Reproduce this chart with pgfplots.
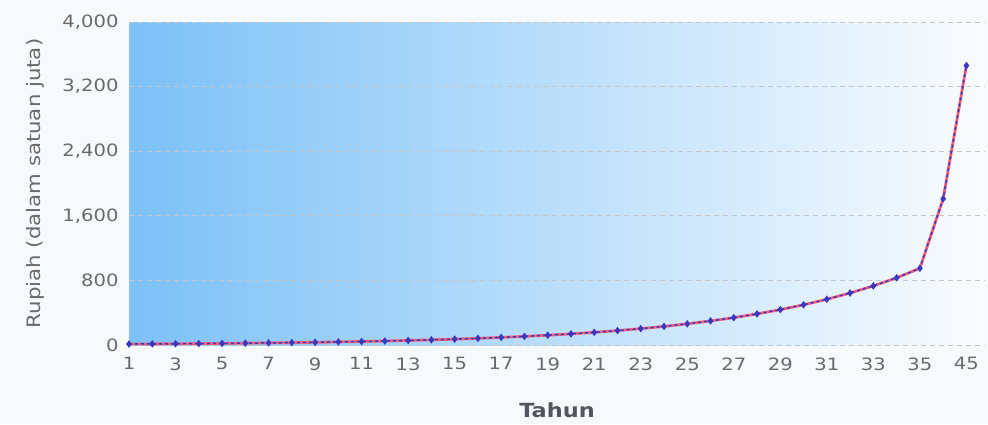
\documentclass[border=0pt]{standalone}
\usepackage{pgfplots}
\pgfplotsset{compat=1.18}
\usepackage{fontspec}
\setmainfont{DejaVu Sans}[FakeStretch=1.15]
\definecolor{bgL}{HTML}{7CC1F7}
\definecolor{bgR}{HTML}{FAFCFE}
\definecolor{outbg}{HTML}{F7FAFC}
\definecolor{tickc}{HTML}{6A6A6A}
\definecolor{titc}{HTML}{55555F}
\definecolor{redl}{HTML}{F0607A}
\definecolor{bluel}{HTML}{3838C0}
\pgfplotstableread{
x y
0 12
1 13.6
2 15.5
3 17.6
4 20.1
5 22.8
6 26.0
7 29.5
8 33.6
9 38.2
10 43.4
11 49.4
12 56.1
13 63.8
14 72.6
15 82.5
16 93.8
17 106.7
18 121.3
19 137.9
20 156.8
21 178.3
22 202.7
23 230.5
24 262.1
25 298.0
26 338.8
27 385.2
28 438.0
29 498.0
30 566.2
31 643.8
32 732.0
33 832.3
34 950
35 1810
36 3460
}\datatab
\begin{document}
\begin{tikzpicture}
\fill[outbg] (0pt,0pt) rectangle (988pt,424pt);
\begin{axis}[
  at={(129pt,79pt)}, anchor=south west,
  scale only axis, width=856pt, height=323pt,
  xmin=0, xmax=36.8, ymin=0, ymax=4000,
  axis background/.style={left color=bgL, right color=bgR, shading angle=90},
  axis line style={draw=none},
  major tick length=0pt,
  xtick={0,2,...,36},
  xticklabels={1,3,5,7,9,11,13,15,17,19,21,23,25,27,29,31,33,35,45},
  ytick={0,800,1600,2400,3200,4000},
  ymajorgrids,
  grid style={dash pattern=on 5pt off 4pt, gray!45, line width=0.7pt},
  /pgf/number format/assume math mode=true,
  /pgf/number format/.cd, 1000 sep={,},
  /pgfplots/.cd,
  tick label style={font=\fontsize{17}{19}\selectfont, text=tickc},
  yticklabel style={xshift=-7pt},
  xticklabel style={yshift=-9pt},
  xlabel={\textbf{Tahun}},
  ylabel={Rupiah (dalam satuan juta)},
  xlabel style={font=\fontsize{19.5}{22}\selectfont, text=titc, at={(axis description cs:0.5,0)}, anchor=center, yshift=-65pt},
  ylabel style={font=\fontsize{18.5}{20}\selectfont, text=tickc, at={(axis description cs:0,0.5)}, anchor=center, yshift=94pt},
  clip=false,
]
\addplot[redl, line width=2.8pt] table[x=x,y=y]{\datatab};
\addplot[bluel, line width=1.5pt, dashed, mark=diamond*, mark size=2.6pt, mark options={solid}] table[x=x,y=y]{\datatab};
\end{axis}
\end{tikzpicture}
\end{document}
